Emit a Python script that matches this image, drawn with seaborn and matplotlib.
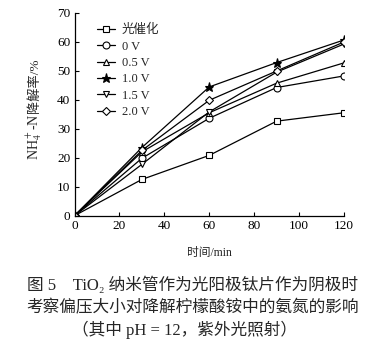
import matplotlib
matplotlib.use("Agg")
import matplotlib.pyplot as plt
import seaborn as sns
import pandas as pd

time_min = [0, 30, 60, 90, 120]
series_names = ["光催化", "0 V", "0.5 V", "1.0 V", "1.5 V", "2.0 V"]
photocat = [0, 12.5, 20.8, 32.6, 35.5]
v0_0 = [0, 19.8, 33.6, 44.2, 48.2]
v0_5 = [0, 22.0, 35.5, 45.7, 52.7]
v1_0 = [0, 23.5, 44.4, 52.8, 60.6]
v1_5 = [0, 17.7, 35.8, 49.5, 59.2]
v2_0 = [0, 22.5, 39.8, 49.9, 59.9]
xticks = [0, 20, 40, 60, 80, 100, 120]
yticks = [0, 10, 20, 30, 40, 50, 60, 70]

sns.set_style("ticks")
plt.rcParams['font.family'] = ['Liberation Serif', 'Noto Sans CJK SC', 'DejaVu Sans']
plt.rcParams['mathtext.fontset'] = 'stix'

values = [photocat, v0_0, v0_5, v1_0, v1_5, v2_0]
markers = ['s', 'o', '^', '*', 'v', 'D']
mfaces = ['white', 'white', 'white', 'black', 'white', 'white']
msizes = [5, 5, 5, 6.5, 5, 4]

W, H = 377, 350
fig = plt.figure(figsize=(W / 100, H / 100), dpi=100)
ax = fig.add_axes([74.5 / W, 1 - 215.7 / H, (344 - 74.5) / W, (215.7 - 12.7) / H])

for name, vals, m, fc, ms in zip(series_names, values, markers, mfaces, msizes):
    df = pd.DataFrame({"t": time_min, "v": vals})
    sns.lineplot(data=df, x="t", y="v", ax=ax, color="black", lw=0.9,
                 marker=m, markersize=ms, markerfacecolor=fc,
                 markeredgecolor="black", markeredgewidth=0.8, label=name)

ax.set_xlim(0, 120)
ax.set_ylim(0, 70)
ax.set_xticks(xticks)
ax.set_yticks(yticks)
ax.tick_params(direction='in', length=3, width=0.8, labelsize=9.5, colors='black', pad=3)
for s in ['top', 'right']:
    ax.spines[s].set_visible(False)
for s in ['left', 'bottom']:
    ax.spines[s].set_linewidth(0.9)
    ax.spines[s].set_color('black')

ax.set_xlabel("时间/min", fontsize=8.5, labelpad=11)
ax.set_ylabel("")

ylab_x = 38 / W
ylab_bottom = 1 - 160 / H
tA = fig.text(ylab_x, ylab_bottom, "NH$_4^+$-N", rotation=90, rotation_mode='anchor',
              ha='left', va='baseline', fontsize=10)
fig.canvas.draw()
r = fig.canvas.get_renderer()
bb = tA.get_window_extent(renderer=r)
top_frac = bb.y1 / H
fig.text(ylab_x, top_frac, "降解率/%", rotation=90, rotation_mode='anchor',
         ha='left', va='baseline', fontsize=9.5)

leg = ax.legend(loc='upper left', bbox_to_anchor=(0.04, 1.0), frameon=False,
                fontsize=9, handlelength=1.5, labelspacing=0.35, handletextpad=0.5)

fig.text(0.51, 1 - 285 / H, "图 5　TiO₂ 纳米管作为光阳极钛片作为阴极时", ha='center', va='center', fontsize=12)
fig.text(0.51, 1 - 308 / H, "考察偏压大小对降解柠檬酸铵中的氨氮的影响", ha='center', va='center', fontsize=12)
fig.text(0.49, 1 - 330 / H, "（其中 pH = 12，紫外光照射）", ha='center', va='center', fontsize=12)

fig.savefig("out.png", dpi=100)
